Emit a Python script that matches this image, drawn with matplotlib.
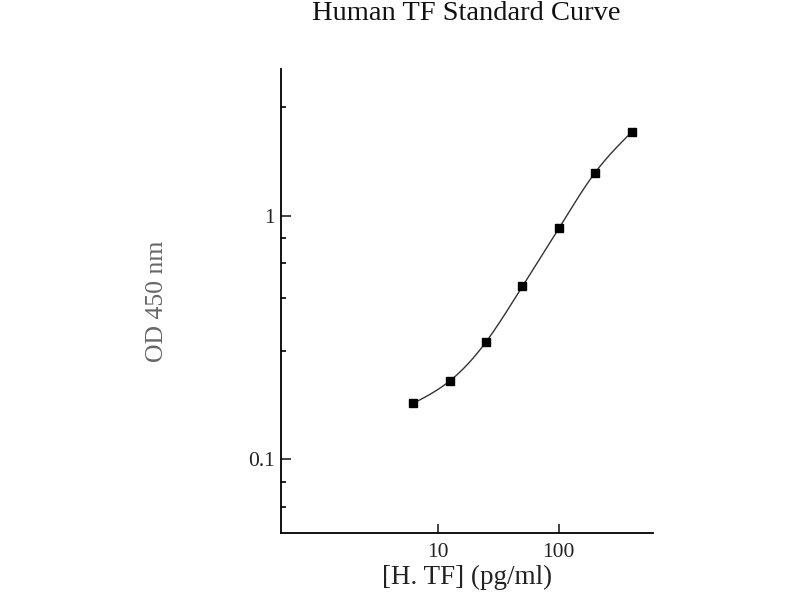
import numpy as np
import matplotlib
matplotlib.use("Agg")
import matplotlib.pyplot as plt
from matplotlib.ticker import FixedLocator, NullFormatter, FixedFormatter

# standard concentrations (pg/ml) and measured OD
conc = [6.25, 12.5, 25, 50, 100, 200, 400]
od = [0.170, 0.210, 0.304, 0.514, 0.888, 1.507, 2.206]

x_major = [10, 100]
x_labels = ["10", "100"]
y_major = [0.1, 1]
y_labels = ["0.1", "1"]
y_minor = [0.064, 0.081, 0.28, 0.46, 0.64, 0.81, 2.8]

plt.rcParams['font.family'] = ['Liberation Serif', 'DejaVu Serif']


def natural_spline(x, y, xs):
    # natural cubic spline through the points
    n = len(x)
    h = np.diff(x)
    A = np.zeros((n, n))
    r = np.zeros(n)
    A[0, 0] = 1
    A[-1, -1] = 1
    for i in range(1, n - 1):
        A[i, i - 1] = h[i - 1]
        A[i, i] = 2 * (h[i - 1] + h[i])
        A[i, i + 1] = h[i]
        r[i] = 3 * ((y[i + 1] - y[i]) / h[i] - (y[i] - y[i - 1]) / h[i - 1])
    c = np.linalg.solve(A, r)
    b = (np.diff(y) / h) - h * (2 * c[:-1] + c[1:]) / 3
    d = np.diff(c) / (3 * h)
    idx = np.clip(np.searchsorted(x, xs) - 1, 0, n - 2)
    t = xs - x[idx]
    return y[idx] + b[idx] * t + c[idx] * t ** 2 + d[idx] * t ** 3


lx = np.log10(conc)
ly = np.log10(od)
xs = np.linspace(lx[0], lx[-1], 300)
ys = natural_spline(lx, ly, xs)

fig = plt.figure(figsize=(8, 6), dpi=100)
ax = fig.add_axes([0.351, 0.112, 0.465, 0.7725])

ax.plot(10 ** xs, 10 ** ys, color='#333333', lw=1.0)
ax.plot(conc, od, 's', color='black', markersize=5.5)

ax.set_xscale('log')
ax.set_yscale('log')
ax.set_xlim(0.5, 600)
ax.set_ylim(0.05, 4)

ax.xaxis.set_major_locator(FixedLocator(x_major))
ax.xaxis.set_major_formatter(FixedFormatter(x_labels))
ax.xaxis.set_minor_locator(FixedLocator([]))
ax.xaxis.set_minor_formatter(NullFormatter())
ax.yaxis.set_major_locator(FixedLocator(y_major))
ax.yaxis.set_major_formatter(FixedFormatter(y_labels))
ax.yaxis.set_minor_locator(FixedLocator(y_minor))
ax.yaxis.set_minor_formatter(NullFormatter())

ax.spines['top'].set_visible(False)
ax.spines['right'].set_visible(False)
for s in ['left', 'bottom']:
    ax.spines[s].set_linewidth(1.3)

ax.tick_params(axis='x', which='major', direction='in', length=6.5, width=1.2,
               labelsize=15.5, pad=7, colors='#222222')
ax.tick_params(axis='y', which='major', direction='in', length=7, width=1.2,
               labelsize=15.5, pad=4, colors='#222222')
ax.tick_params(axis='y', which='minor', direction='in', length=3.6, width=1.2)

ax.set_xlabel('[H. TF] (pg/ml)', fontsize=19.5, va='center', color='#222222')
ax.xaxis.set_label_coords(0.5, -0.097)
ax.set_ylabel('OD 450 nm', fontsize=18.5, va='center', color='#666666')
ax.yaxis.set_label_coords(-0.3325, 0.5)

fig.text(0.5834, 1 - 13 / 600, 'Human TF Standard Curve', fontsize=20.5,
         ha='center', va='center', color='#111111')

fig.savefig('out.png', dpi=100)
